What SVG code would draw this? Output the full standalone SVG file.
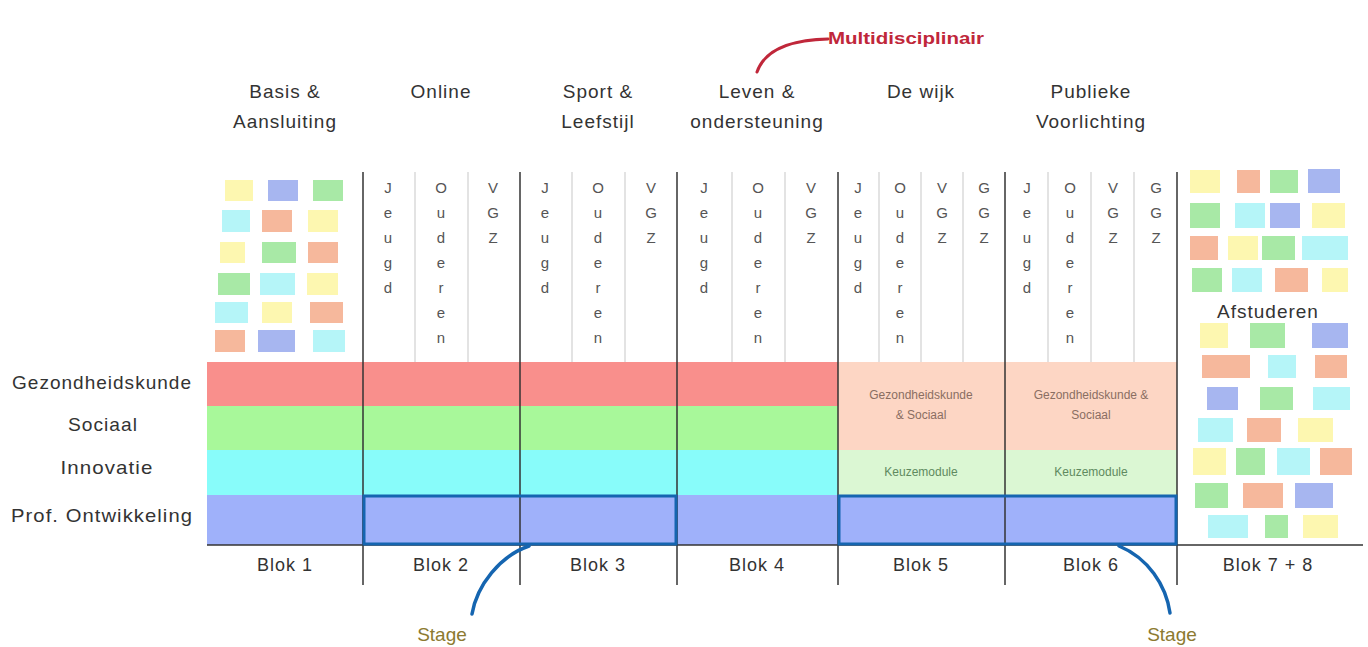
<svg xmlns="http://www.w3.org/2000/svg" width="1368" height="647" viewBox="0 0 1368 647">
<defs>
<style>
text{font-family:"Liberation Sans","DejaVu Sans",sans-serif;fill:#333}
.hd{font-size:19px;text-anchor:middle;letter-spacing:1px}
.row{font-size:19px;text-anchor:middle;letter-spacing:1px}
.blk{font-size:18px;text-anchor:middle;letter-spacing:1px}
.lt{font-size:15px;text-anchor:middle;fill:#555}
.sm{font-size:12px;text-anchor:middle;fill:#8a6e62}
.km{font-size:12px;text-anchor:middle;fill:#5f8a5f}
.stage{font-size:19px;text-anchor:middle;fill:#8c7a30}
.div{stroke:#333;stroke-width:1.5}
.sub{stroke:#d0d0d0;stroke-width:1.2}
.y{fill:#fdf7b0}.b{fill:#a7b6f0}.g{fill:#a8e9a6}.c{fill:#b5f5f8}.o{fill:#f6b89c}
.stg{fill:none;stroke:#1565b0;stroke-width:3.5;stroke-linecap:round}
</style>
</defs>
<rect width="1368" height="647" fill="#fff"/>

<g id="headers">
<text class="hd" x="285" y="98">Basis &amp;</text>
<text class="hd" x="285" y="128">Aansluiting</text>
<text class="hd" x="441" y="98">Online</text>
<text class="hd" x="598" y="98">Sport &amp;</text>
<text class="hd" x="598" y="128">Leefstijl</text>
<text class="hd" x="757" y="98">Leven &amp;</text>
<text class="hd" x="757" y="128">ondersteuning</text>
<text class="hd" x="921" y="98">De wijk</text>
<text class="hd" x="1091" y="98">Publieke</text>
<text class="hd" x="1091" y="128">Voorlichting</text>
</g>

<g id="multidisciplinair">
<text x="828" y="44" font-size="17" font-weight="bold" style="fill:#c0273a" textLength="156" lengthAdjust="spacingAndGlyphs">Multidisciplinair</text>
</g>

<g id="bands">
<rect x="207" y="362" width="631" height="44" fill="#f98f8c"/>
<rect x="207" y="406" width="631" height="44" fill="#a8f89a"/>
<rect x="207" y="450" width="631" height="45" fill="#88fcfa"/>
<rect x="207" y="495" width="970" height="50" fill="#9fb1fa"/>
<rect x="838" y="362" width="339" height="88" fill="#fdd6c4"/>
<rect x="838" y="450" width="339" height="45" fill="#dbf7d3"/>
<text class="sm" x="921" y="399">Gezondheidskunde</text>
<text class="sm" x="921" y="419">&amp; Sociaal</text>
<text class="sm" x="1091" y="399">Gezondheidskunde &amp;</text>
<text class="sm" x="1091" y="419">Sociaal</text>
<text class="km" x="921" y="476">Keuzemodule</text>
<text class="km" x="1091" y="476">Keuzemodule</text>
</g>

<g id="row-labels">
<text class="row" x="102" y="389" textLength="180" lengthAdjust="spacingAndGlyphs">Gezondheidskunde</text>
<text class="row" x="103" y="431" textLength="70" lengthAdjust="spacingAndGlyphs">Sociaal</text>
<text class="row" x="107" y="474" textLength="93" lengthAdjust="spacingAndGlyphs">Innovatie</text>
<text class="row" x="102" y="522" textLength="182" lengthAdjust="spacingAndGlyphs">Prof. Ontwikkeling</text>
</g>

<g id="grid">
<line class="sub" x1="415" y1="172" x2="415" y2="362"/>
<line class="sub" x1="468" y1="172" x2="468" y2="362"/>
<line class="sub" x1="572" y1="172" x2="572" y2="362"/>
<line class="sub" x1="625" y1="172" x2="625" y2="362"/>
<line class="sub" x1="732" y1="172" x2="732" y2="362"/>
<line class="sub" x1="785" y1="172" x2="785" y2="362"/>
<line class="sub" x1="879" y1="172" x2="879" y2="362"/>
<line class="sub" x1="921" y1="172" x2="921" y2="362"/>
<line class="sub" x1="963" y1="172" x2="963" y2="362"/>
<line class="sub" x1="1048" y1="172" x2="1048" y2="362"/>
<line class="sub" x1="1091" y1="172" x2="1091" y2="362"/>
<line class="sub" x1="1134" y1="172" x2="1134" y2="362"/>
<line class="div" x1="363" y1="172" x2="363" y2="585"/>
<line class="div" x1="520" y1="172" x2="520" y2="585"/>
<line class="div" x1="677" y1="172" x2="677" y2="585"/>
<line class="div" x1="838" y1="172" x2="838" y2="585"/>
<line class="div" x1="1005" y1="172" x2="1005" y2="585"/>
<line class="div" x1="1177" y1="172" x2="1177" y2="585"/>
<line class="div" x1="207" y1="545" x2="1363" y2="545"/>
</g>

<g id="subcolumn-letters">
<text class="lt" x="388" y="193">J</text><text class="lt" x="388" y="218">e</text><text class="lt" x="388" y="243">u</text><text class="lt" x="388" y="268">g</text><text class="lt" x="388" y="293">d</text>
<text class="lt" x="441" y="193">O</text><text class="lt" x="441" y="218">u</text><text class="lt" x="441" y="243">d</text><text class="lt" x="441" y="268">e</text><text class="lt" x="441" y="293">r</text><text class="lt" x="441" y="318">e</text><text class="lt" x="441" y="343">n</text>
<text class="lt" x="493" y="193">V</text><text class="lt" x="493" y="218">G</text><text class="lt" x="493" y="243">Z</text>

<text class="lt" x="545" y="193">J</text><text class="lt" x="545" y="218">e</text><text class="lt" x="545" y="243">u</text><text class="lt" x="545" y="268">g</text><text class="lt" x="545" y="293">d</text>
<text class="lt" x="598" y="193">O</text><text class="lt" x="598" y="218">u</text><text class="lt" x="598" y="243">d</text><text class="lt" x="598" y="268">e</text><text class="lt" x="598" y="293">r</text><text class="lt" x="598" y="318">e</text><text class="lt" x="598" y="343">n</text>
<text class="lt" x="651" y="193">V</text><text class="lt" x="651" y="218">G</text><text class="lt" x="651" y="243">Z</text>

<text class="lt" x="704" y="193">J</text><text class="lt" x="704" y="218">e</text><text class="lt" x="704" y="243">u</text><text class="lt" x="704" y="268">g</text><text class="lt" x="704" y="293">d</text>
<text class="lt" x="758" y="193">O</text><text class="lt" x="758" y="218">u</text><text class="lt" x="758" y="243">d</text><text class="lt" x="758" y="268">e</text><text class="lt" x="758" y="293">r</text><text class="lt" x="758" y="318">e</text><text class="lt" x="758" y="343">n</text>
<text class="lt" x="811" y="193">V</text><text class="lt" x="811" y="218">G</text><text class="lt" x="811" y="243">Z</text>

<text class="lt" x="858" y="193">J</text><text class="lt" x="858" y="218">e</text><text class="lt" x="858" y="243">u</text><text class="lt" x="858" y="268">g</text><text class="lt" x="858" y="293">d</text>
<text class="lt" x="900" y="193">O</text><text class="lt" x="900" y="218">u</text><text class="lt" x="900" y="243">d</text><text class="lt" x="900" y="268">e</text><text class="lt" x="900" y="293">r</text><text class="lt" x="900" y="318">e</text><text class="lt" x="900" y="343">n</text>
<text class="lt" x="942" y="193">V</text><text class="lt" x="942" y="218">G</text><text class="lt" x="942" y="243">Z</text>
<text class="lt" x="984" y="193">G</text><text class="lt" x="984" y="218">G</text><text class="lt" x="984" y="243">Z</text>

<text class="lt" x="1027" y="193">J</text><text class="lt" x="1027" y="218">e</text><text class="lt" x="1027" y="243">u</text><text class="lt" x="1027" y="268">g</text><text class="lt" x="1027" y="293">d</text>
<text class="lt" x="1070" y="193">O</text><text class="lt" x="1070" y="218">u</text><text class="lt" x="1070" y="243">d</text><text class="lt" x="1070" y="268">e</text><text class="lt" x="1070" y="293">r</text><text class="lt" x="1070" y="318">e</text><text class="lt" x="1070" y="343">n</text>
<text class="lt" x="1113" y="193">V</text><text class="lt" x="1113" y="218">G</text><text class="lt" x="1113" y="243">Z</text>
<text class="lt" x="1156" y="193">G</text><text class="lt" x="1156" y="218">G</text><text class="lt" x="1156" y="243">Z</text>
</g>

<g id="blok1-tiles">
<rect class="y" x="225" y="180" width="28" height="21"/><rect class="b" x="268" y="180" width="30" height="21"/><rect class="g" x="313" y="180" width="30" height="21"/>
<rect class="c" x="222" y="210" width="28" height="22"/><rect class="o" x="262" y="210" width="30" height="22"/><rect class="y" x="308" y="210" width="30" height="22"/>
<rect class="y" x="220" y="242" width="25" height="21"/><rect class="g" x="262" y="242" width="34" height="21"/><rect class="o" x="308" y="242" width="30" height="21"/>
<rect class="g" x="218" y="273" width="32" height="22"/><rect class="c" x="260" y="273" width="35" height="22"/><rect class="y" x="307" y="273" width="31" height="22"/>
<rect class="c" x="215" y="302" width="33" height="21"/><rect class="y" x="262" y="302" width="30" height="21"/><rect class="o" x="310" y="302" width="33" height="21"/>
<rect class="o" x="215" y="330" width="30" height="22"/><rect class="b" x="258" y="330" width="37" height="22"/><rect class="c" x="313" y="330" width="32" height="22"/>
</g>

<g id="blok78-tiles">
<rect class="y" x="1190" y="170" width="30" height="23"/><rect class="o" x="1237" y="170" width="23" height="23"/><rect class="g" x="1270" y="170" width="28" height="23"/><rect class="b" x="1308" y="169" width="32" height="24"/>
<rect class="g" x="1190" y="203" width="30" height="25"/><rect class="c" x="1235" y="203" width="30" height="25"/><rect class="b" x="1270" y="203" width="30" height="25"/><rect class="y" x="1312" y="203" width="33" height="25"/>
<rect class="o" x="1190" y="236" width="28" height="24"/><rect class="y" x="1228" y="236" width="30" height="24"/><rect class="g" x="1262" y="236" width="33" height="24"/><rect class="c" x="1302" y="236" width="46" height="24"/>
<rect class="g" x="1192" y="268" width="30" height="24"/><rect class="c" x="1232" y="268" width="30" height="24"/><rect class="o" x="1275" y="268" width="33" height="24"/><rect class="y" x="1322" y="268" width="26" height="24"/>
<text x="1268" y="318" font-size="19" text-anchor="middle" letter-spacing="1">Afstuderen</text>
<rect class="y" x="1200" y="323" width="28" height="25"/><rect class="g" x="1250" y="323" width="35" height="25"/><rect class="b" x="1312" y="323" width="36" height="25"/>
<rect class="o" x="1202" y="355" width="48" height="23"/><rect class="c" x="1268" y="355" width="28" height="23"/><rect class="o" x="1315" y="355" width="32" height="23"/>
<rect class="b" x="1207" y="387" width="31" height="23"/><rect class="g" x="1260" y="387" width="33" height="23"/><rect class="c" x="1313" y="387" width="37" height="23"/>
<rect class="c" x="1198" y="418" width="35" height="24"/><rect class="o" x="1247" y="418" width="34" height="24"/><rect class="y" x="1298" y="418" width="35" height="24"/>
<rect class="y" x="1193" y="448" width="33" height="27"/><rect class="g" x="1236" y="448" width="29" height="27"/><rect class="c" x="1277" y="448" width="33" height="27"/><rect class="o" x="1320" y="448" width="32" height="27"/>
<rect class="g" x="1195" y="483" width="33" height="25"/><rect class="o" x="1243" y="483" width="40" height="25"/><rect class="b" x="1295" y="483" width="38" height="25"/>
<rect class="c" x="1208" y="515" width="40" height="23"/><rect class="g" x="1265" y="515" width="23" height="23"/><rect class="y" x="1303" y="515" width="35" height="23"/>
</g>

<g id="stage-boxes">
<rect x="364" y="496" width="312" height="48" fill="none" stroke="#1565b0" stroke-width="3"/>
<rect x="839" y="496" width="337" height="48" fill="none" stroke="#1565b0" stroke-width="3"/>
</g>

<g id="block-labels">
<text class="blk" x="285" y="571">Blok 1</text>
<text class="blk" x="441" y="571">Blok 2</text>
<text class="blk" x="598" y="571">Blok 3</text>
<text class="blk" x="757" y="571">Blok 4</text>
<text class="blk" x="921" y="571">Blok 5</text>
<text class="blk" x="1091" y="571">Blok 6</text>
<text class="blk" x="1268" y="571">Blok 7 + 8</text>
</g>

<g id="connectors">
<path d="M757 72 C764 52 785 40 828 39" fill="none" stroke="#c0273a" stroke-width="3" stroke-linecap="round"/>
<path class="stg" d="M529 546 C500 556 477 585 472 614"/>
<path class="stg" d="M1119 546 C1148 558 1166 585 1170 613"/>
</g>

<g id="stage-labels">
<text class="stage" x="442" y="641">Stage</text>
<text class="stage" x="1172" y="641">Stage</text>
</g>
</svg>
